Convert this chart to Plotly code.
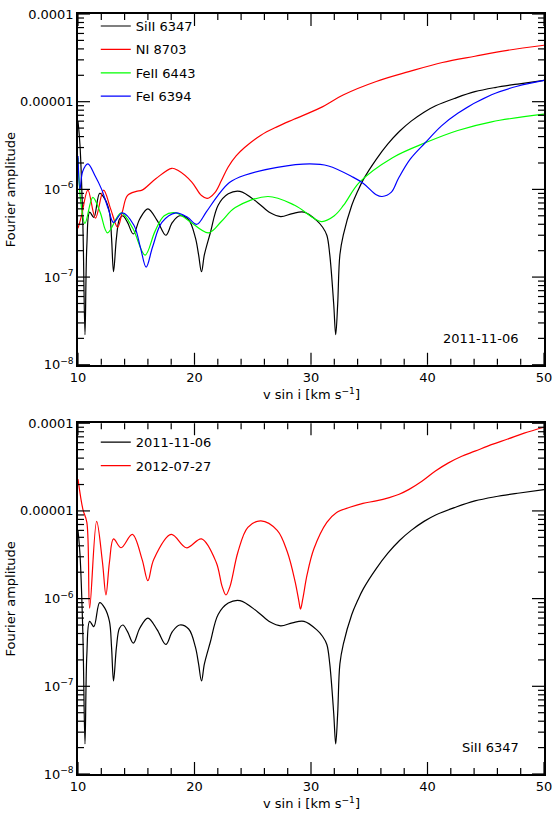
import math
import plotly.graph_objects as go

# ---------------- data ----------------
# Top panel (2011-11-06); SiII 6347 is also the black curve of the bottom panel
v_si = [10.0, 10.17, 10.42, 10.6, 10.76, 11.0, 11.36, 11.86, 12.3, 12.7, 12.88, 13.05, 13.3, 13.56,
        13.85, 14.25, 14.75, 15.3, 16.0, 16.8, 17.54, 18.1, 18.73, 19.5, 20.08, 20.35, 20.6, 20.85,
        21.36, 22.03, 22.9, 23.9, 25.4, 26.5, 27.4, 28.4, 29.4, 30.5, 31.0, 31.36, 31.61, 31.95,
        32.12, 32.29, 32.48, 32.77, 33.5, 34.0, 34.5, 35.6, 36.6, 37.6, 38.6, 39.7, 40.7, 42.4,
        44.07, 45.8, 47.9, 50.0]
a_si = [6.0e-6, 3.2e-6, 3.9e-7, 2.2e-8, 2.3e-7, 5.5e-7, 4.8e-7, 9.0e-7, 7.8e-7, 5.5e-7, 2.8e-7, 1.15e-7,
        2.8e-7, 4.6e-7, 5.0e-7, 4.2e-7, 3.1e-7, 4.6e-7, 6.0e-7, 4.4e-7, 3.0e-7, 4.2e-7, 5.0e-7, 4.5e-7,
        2.8e-7, 1.8e-7, 1.15e-7, 1.8e-7, 3.2e-7, 6.6e-7, 8.9e-7, 9.5e-7, 7.1e-7, 5.4e-7, 4.9e-7, 5.3e-7,
        5.5e-7, 4.4e-7, 3.7e-7, 3.0e-7, 1.8e-7, 4.9e-8, 2.2e-8, 4.9e-8, 1.8e-7, 3.0e-7, 6.6e-7, 9.5e-7,
        1.3e-6, 2.2e-6, 3.3e-6, 4.6e-6, 6.0e-6, 7.6e-6, 9.0e-6, 1.1e-5, 1.3e-5, 1.45e-5, 1.6e-5, 1.75e-5]

v_ni = [10.0, 10.3, 10.85, 11.5, 12.2, 12.8, 13.4, 13.8, 14.24, 15.0, 15.5, 16.7, 18.05, 18.6, 19.75,
        20.6, 21.1, 21.75, 22.31, 22.88, 23.59, 24.3, 25.7, 27.12, 28.53, 30.79, 32.8, 35.6, 38.4,
        41.27, 44.07, 46.86, 50.0]
a_ni = [3.6e-7, 5.0e-7, 9.8e-7, 4.7e-7, 9.8e-7, 6.0e-7, 3.7e-7, 5.5e-7, 8.5e-7, 9.5e-7, 9.8e-7, 1.33e-6,
        1.74e-6, 1.64e-6, 1.22e-6, 8.5e-7, 7.9e-7, 9.2e-7, 1.26e-6, 1.79e-6, 2.42e-6, 3.0e-6, 4.15e-6,
        5.2e-6, 6.3e-6, 8.5e-6, 1.2e-5, 1.7e-5, 2.2e-5, 2.8e-5, 3.3e-5, 3.85e-5, 4.4e-5]

v_fe2 = [10.0, 10.25, 10.6, 11.27, 11.9, 12.54, 13.7, 14.7, 15.76, 16.6, 17.4, 18.4, 19.5, 21.2, 22.3,
         23.5, 26.3, 28.6, 30.9, 32.0, 32.8, 34.15, 37.0, 39.8, 42.6, 45.5, 50.0]
a_fe2 = [2.3e-6, 7.0e-7, 4.1e-7, 8.1e-7, 5.5e-7, 3.2e-7, 5.4e-7, 3.6e-7, 1.78e-7, 3.3e-7, 5.0e-7, 5.4e-7,
         4.4e-7, 3.2e-7, 4.3e-7, 6.2e-7, 8.3e-7, 6.6e-7, 4.3e-7, 5.0e-7, 6.6e-7, 1.2e-6, 2.3e-6, 3.4e-6,
         4.7e-6, 5.9e-6, 7.2e-6]

v_fe1 = [10.0, 10.17, 10.4, 10.85, 11.44, 12.03, 12.6, 13.05, 13.8, 14.8, 15.35, 15.85, 16.4, 17.2, 18.4,
         19.4, 20.2, 21.0, 22.0, 23.0, 24.3, 27.1, 29.9, 31.5, 33.6, 34.5, 35.6, 36.1, 36.9, 37.5, 38.5,
         39.8, 41.2, 42.6, 45.5, 47.7, 50.0]
a_fe1 = [2.4e-6, 1.0e-6, 1.6e-6, 1.95e-6, 1.45e-6, 1.0e-6, 6.0e-7, 4.2e-7, 5.4e-7, 3.9e-7, 2.2e-7, 1.3e-7,
         2.2e-7, 4.2e-7, 5.4e-7, 4.8e-7, 4.0e-7, 5.5e-7, 8.5e-7, 1.2e-6, 1.45e-6, 1.78e-6, 1.95e-6, 1.85e-6,
         1.38e-6, 1.17e-6, 8.7e-7, 8.3e-7, 9.3e-7, 1.33e-6, 2.2e-6, 3.4e-6, 5.3e-6, 7.4e-6, 1.2e-5, 1.5e-5,
         1.75e-5]

# Bottom panel (SiII 6347, second epoch)
v_2012 = [10.0, 10.42, 10.76, 11.0, 11.6, 12.1, 12.4, 12.7, 13.05, 13.7, 14.66, 15.5, 16.0, 16.5, 18.0,
          19.3, 20.6, 21.86, 22.37, 22.7, 23.05, 23.73, 24.58, 25.7, 27.1, 27.97, 28.64, 28.95, 29.1, 29.3,
          29.66, 30.25, 31.36, 32.2, 33.33, 34.46, 35.59, 36.72, 37.57, 38.42, 39.55, 40.68, 41.8, 42.94,
          44.07, 45.48, 46.89, 48.3, 50.0]
a_2012 = [2.3e-5, 1.04e-5, 7.4e-6, 7.8e-7, 7.6e-6, 2.6e-6, 1.1e-6, 2.6e-6, 4.8e-6, 3.8e-6, 5.4e-6, 2.8e-6,
          1.6e-6, 2.8e-6, 5.4e-6, 3.8e-6, 4.8e-6, 2.6e-6, 1.38e-6, 1.1e-6, 1.38e-6, 3.4e-6, 6.5e-6, 7.7e-6,
          6.0e-6, 3.4e-6, 1.55e-6, 9.5e-7, 7.6e-7, 1.0e-6, 1.86e-6, 3.7e-6, 7.4e-6, 9.6e-6, 1.1e-5, 1.22e-5,
          1.3e-5, 1.42e-5, 1.55e-5, 1.76e-5, 2.19e-5, 2.85e-5, 3.53e-5, 4.2e-5, 4.8e-5, 5.7e-5, 6.6e-5,
          7.7e-5, 9.0e-5]

x_ticks = [10, 20, 30, 40, 50]
x_minor = [12, 14, 16, 18, 22, 24, 26, 28, 32, 34, 36, 38, 42, 44, 46, 48]
y_ticks = [1e-8, 1e-7, 1e-6, 1e-5, 1e-4]
y_ticktext = ["10<sup>−8</sup>", "10<sup>−7</sup>", "10<sup>−6</sup>", "0.00001", "0.0001"]
y_minor = [m * 10.0 ** e for e in range(-8, -4) for m in range(2, 10)]
X_RANGE = [10, 50]
Y_LOG_RANGE = [-8, -4]

FONT = "DejaVu Sans"

fig = go.Figure()

def add(x, y, name, color, xa, ya, legend):
    fig.add_trace(go.Scatter(
        x=x, y=y, name=name, mode="lines", xaxis=xa, yaxis=ya, legend=legend,
        legendgroup=name + legend,
        line=dict(color=color, width=1.2, shape="spline", smoothing=1.0)))

add(v_si, a_si, "SiII 6347", "#000000", "x", "y", "legend")
add(v_ni, a_ni, "NI 8703", "#ff0000", "x", "y", "legend")
add(v_fe2, a_fe2, "FeII 6443", "#00ff00", "x", "y", "legend")
add(v_fe1, a_fe1, "FeI 6394", "#0000ff", "x", "y", "legend")
add(v_si, a_si, "2011-11-06", "#000000", "x2", "y2", "legend2")
add(v_2012, a_2012, "2012-07-27", "#ff0000", "x2", "y2", "legend2")

H = 813
L, R, T, B = 78, 9, 7, 39
ph = H - T - B

def py(pix):
    return (H - B - pix) / ph

def px(pix):
    return (pix - L) / (559 - L - R)

# tick marks on all four sides of each panel (IDL style, pointing inward)
def tick_shapes(xn, yn):
    out = []
    for t in x_ticks + x_minor:
        ln = 12 if t in x_ticks else 6
        for anchor, sign in ((0, 1), (1, -1)):
            out.append(dict(type="line", xref=xn, x0=t, x1=t, yref=yn + " domain",
                            ysizemode="pixel", yanchor=anchor, y0=0, y1=sign * ln,
                            line=dict(color="black", width=1.2)))
    for v in y_ticks + y_minor:
        ln = 12 if v in y_ticks else 6
        f = (math.log10(v) - Y_LOG_RANGE[0]) / (Y_LOG_RANGE[1] - Y_LOG_RANGE[0])
        for anchor, sign in ((0, 1), (1, -1)):
            out.append(dict(type="line", yref=yn + " domain", y0=f, y1=f, xref=xn + " domain",
                            xsizemode="pixel", xanchor=anchor, x0=0, x1=sign * ln,
                            line=dict(color="black", width=1.2)))
    return out

xcommon = dict(range=X_RANGE, tickvals=x_ticks, ticks="", showline=True, mirror=True,
               linecolor="black", linewidth=1.5, showgrid=False, zeroline=False,
               tickfont=dict(family=FONT, size=13, color="black"))
ycommon = dict(type="log", range=Y_LOG_RANGE, tickvals=y_ticks, ticktext=y_ticktext, ticks="",
               showline=True, mirror=True, linecolor="black", linewidth=1.5, showgrid=False,
               zeroline=False, tickfont=dict(family=FONT, size=13, color="black"))

legcommon = dict(font=dict(family=FONT, size=13, color="black"), bgcolor="rgba(0,0,0,0)",
                 borderwidth=0, itemwidth=30, tracegroupgap=3.5, xanchor="left", yanchor="top",
                 itemclick=False)

fig.update_layout(
    width=559, height=813,
    margin=dict(l=L, r=R, t=T, b=B),
    paper_bgcolor="white", plot_bgcolor="white",
    font=dict(family=FONT, size=13, color="black"),
    showlegend=True,
    xaxis=dict(domain=[0, 1], anchor="y", **xcommon),
    yaxis=dict(domain=[py(361), 1.0], anchor="x", **ycommon),
    xaxis2=dict(domain=[0, 1], anchor="y2", **xcommon),
    yaxis2=dict(domain=[0, py(420)], anchor="x2", **ycommon),
    legend=dict(x=px(96), y=py(4), **legcommon),
    legend2=dict(x=px(96), y=py(424), **legcommon),
    shapes=tick_shapes("x", "y") + tick_shapes("x2", "y2"),
    annotations=[
        dict(text="2011-11-06", x=px(527), y=py(334), xref="paper", yref="paper",
             xanchor="right", yanchor="middle", showarrow=False, font=dict(size=13)),
        dict(text="SiII 6347", x=px(527), y=py(747), xref="paper", yref="paper",
             xanchor="right", yanchor="middle", showarrow=False, font=dict(size=13)),
        dict(text="Fourier amplitude", x=px(10), y=py(184), xref="paper", yref="paper",
             textangle=-90, xanchor="center", yanchor="middle", showarrow=False, font=dict(size=13)),
        dict(text="Fourier amplitude", x=px(10), y=py(597), xref="paper", yref="paper",
             textangle=-90, xanchor="center", yanchor="middle", showarrow=False, font=dict(size=13)),
        dict(text="v sin i [km s<sup>−1</sup>]", x=px(314), y=py(390), xref="paper", yref="paper",
             xanchor="center", yanchor="middle", showarrow=False, font=dict(size=13)),
        dict(text="v sin i [km s<sup>−1</sup>]", x=px(314), y=py(803), xref="paper", yref="paper",
             xanchor="center", yanchor="middle", showarrow=False, font=dict(size=13)),
    ],
)

fig.write_html("out.html")
